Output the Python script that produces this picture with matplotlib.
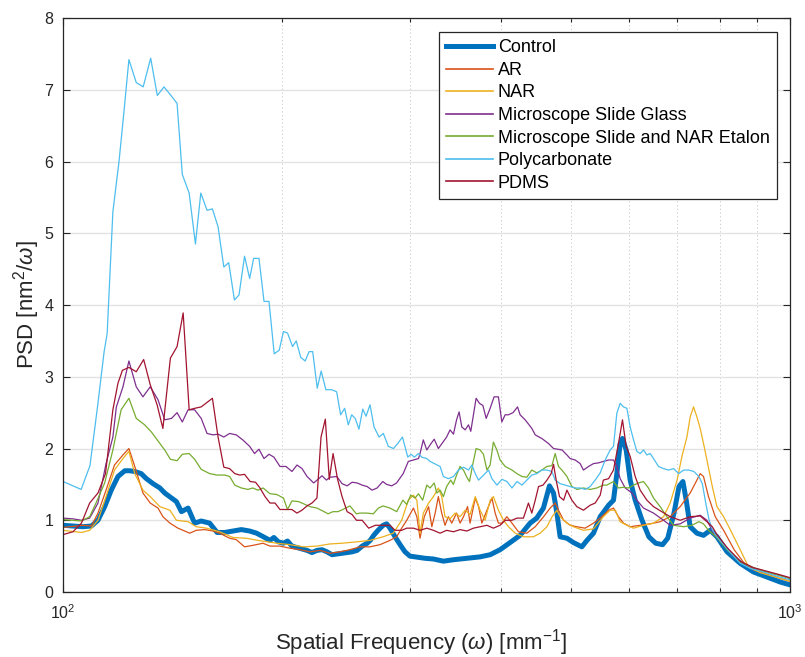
import matplotlib
matplotlib.use("Agg")
import matplotlib.pyplot as plt
from matplotlib.ticker import LogLocator, NullLocator, MultipleLocator, NullFormatter

plt.rcParams['font.family'] = ['Liberation Sans', 'DejaVu Sans']
plt.rcParams['mathtext.fontset'] = 'custom'
plt.rcParams['mathtext.rm'] = 'Liberation Sans'
plt.rcParams['mathtext.it'] = 'Liberation Sans:italic'

# PSD curves (spatial frequency in mm^-1, PSD in nm^2/omega)
control_f = [100, 103.2, 106.5, 109.4, 111.7, 114.1, 116.5, 119.0, 121.6, 123.5, 125.5, 128.1, 130.2,
             133.0, 135.9, 138.0, 141.0, 143.2, 145.5, 148.6, 151.7, 154.9, 159.1, 162.9, 166.9,
             171.3, 175.9, 180.6, 184.6, 188.6, 192.6, 195.0, 197.7, 201.0, 203.6, 206.5, 209.8,
             213.2, 216.6, 220.0, 223.5, 227.1, 230.7, 234.4, 238.2, 242.0, 245.9, 249.8, 253.8,
             257.9, 262.0, 264.6, 267.5, 271.2, 275.6, 278.7, 281.7, 286.2, 290.8, 295.4, 300.1,
             305.0, 309.8, 314.8, 323.2, 333.6, 344.4, 359.2, 374.7, 386.8, 399.2, 412.1, 425.3,
             439.0, 448.3, 457.9, 466.8, 472.8, 477.9, 482.8, 493.3, 503.5, 517.2, 525.6, 536.6,
             548.1, 562.9, 571.7, 577.8, 583.9, 588.2, 595.1, 602.7, 612.4, 625.8, 639.5, 653.5,
             667.9, 678.9, 692.5, 703.5, 712.3, 719.8, 728.9, 744.6, 760.3, 776.6, 793.3, 819.3,
             854.0, 890.4, 929.0, 969.0, 1000]
control_psd = [0.93, 0.92, 0.91, 0.92, 1.00, 1.19, 1.42, 1.61, 1.69, 1.69, 1.68, 1.65, 1.58,
               1.51, 1.45, 1.38, 1.31, 1.26, 1.12, 1.17, 0.96, 0.99, 0.96, 0.83, 0.83,
               0.85, 0.87, 0.85, 0.82, 0.77, 0.72, 0.76, 0.70, 0.68, 0.71, 0.64, 0.62,
               0.60, 0.58, 0.55, 0.58, 0.59, 0.56, 0.52, 0.53, 0.54, 0.55, 0.56, 0.58,
               0.64, 0.68, 0.72, 0.79, 0.86, 0.93, 0.95, 0.89, 0.77, 0.66, 0.56, 0.50,
               0.49, 0.48, 0.47, 0.46, 0.43, 0.45, 0.47, 0.49, 0.52, 0.59, 0.69, 0.79,
               0.96, 1.03, 1.17, 1.48, 1.38, 1.10, 0.77, 0.75, 0.69, 0.63, 0.72, 0.82,
               1.05, 1.21, 1.28, 1.65, 2.07, 2.14, 1.98, 1.56, 1.28, 1.00, 0.77, 0.68,
               0.66, 0.75, 1.10, 1.47, 1.54, 1.28, 0.91, 0.82, 0.79, 0.86, 0.77, 0.56,
               0.40, 0.28, 0.21, 0.14, 0.10]

ar_f = [100, 106.5, 109.4, 111.7, 114.6, 117.7, 120.9, 123.2, 125.5, 128.8, 131.8, 135.1, 137.2,
        140.3, 143.9, 149.4, 152.5, 156.6, 160.8, 164.2, 169.5, 173.1, 177.7, 182.4, 188.4,
        192.6, 198.8, 205.2, 211.8, 218.6, 225.6, 232.9, 240.4, 248.1, 256.1, 264.4, 272.9,
        281.7, 287.7, 292.3, 297.0, 303.4, 306.7, 309.8, 314.0, 318.3, 321.6, 325.0, 328.3,
        331.8, 335.3, 338.9, 342.5, 347.8, 351.7, 355.5, 360.1, 363.0, 369.0, 372.9, 376.8,
        382.9, 389.0, 393.0, 397.1, 401.4, 407.8, 414.5, 423.1, 434.5, 446.2, 458.2, 467.8,
        475.3, 480.3, 488.2, 498.4, 509.0, 522.6, 536.6, 551.2, 562.9, 571.7, 580.8, 590.1,
        602.7, 622.1, 642.1, 662.8, 684.1, 706.2, 728.9, 744.6, 752.4, 760.3, 772.4, 789.1,
        810.3, 837.8, 865.1, 890.4, 929.0, 969.0, 1000]
ar_psd = [0.90, 0.93, 0.92, 1.10, 1.42, 1.77, 1.91, 2.00, 1.75, 1.38, 1.24, 1.17, 1.05,
          0.96, 0.89, 0.82, 0.86, 0.87, 0.85, 0.82, 0.75, 0.73, 0.63, 0.65, 0.68,
          0.64, 0.64, 0.61, 0.59, 0.56, 0.58, 0.54, 0.56, 0.59, 0.63, 0.63, 0.66,
          0.72, 0.77, 0.89, 1.00, 1.17, 1.05, 0.75, 1.05, 1.19, 0.91, 1.10, 1.33,
          1.10, 0.93, 1.05, 0.96, 1.10, 0.96, 1.05, 1.19, 0.96, 1.31, 1.19, 0.96,
          1.14, 1.31, 1.10, 0.96, 0.96, 1.05, 0.96, 0.84, 0.82, 0.91, 1.05, 1.17,
          1.24, 1.14, 1.00, 0.93, 0.91, 0.89, 0.96, 1.05, 1.14, 1.17, 1.05, 0.96,
          0.91, 0.93, 0.95, 0.98, 1.05, 1.19, 1.38, 1.56, 1.65, 1.61, 1.33, 1.05,
          0.86, 0.59, 0.40, 0.31, 0.25, 0.19, 0.15]

nar_f = [100, 106.0, 108.8, 111.7, 114.6, 117.7, 120.9, 123.2, 125.5, 128.8, 131.8, 135.9, 140.3,
         143.2, 148.6, 152.5, 157.5, 164.2, 171.3, 178.5, 185.4, 196.9, 205.2, 214.2, 223.5,
         232.9, 242.0, 253.8, 264.4, 275.6, 284.6, 292.3, 298.5, 303.4, 306.7, 309.8, 313.0,
         318.3, 323.2, 328.3, 331.8, 335.3, 340.7, 346.2, 351.7, 357.4, 363.0, 369.0, 374.7,
         380.7, 386.8, 390.8, 397.1, 403.5, 410.0, 418.8, 429.8, 443.6, 453.2, 463.1, 470.7,
         477.9, 482.8, 493.3, 503.5, 519.8, 536.6, 553.6, 565.7, 575.0, 583.9, 596.5, 609.2,
         628.7, 649.0, 669.9, 684.1, 699.3, 710.1, 721.4, 728.9, 736.6, 744.6, 752.4, 760.3,
         768.6, 781.8, 793.3, 810.3, 832.2, 854.0, 876.7, 909.6, 953.8, 1000]
nar_psd = [0.86, 0.83, 0.86, 1.00, 1.33, 1.70, 1.86, 1.96, 1.65, 1.42, 1.33, 1.19, 1.14,
           1.00, 0.98, 0.91, 0.89, 0.84, 0.76, 0.75, 0.72, 0.68, 0.66, 0.63, 0.64,
           0.67, 0.68, 0.70, 0.72, 0.77, 0.82, 1.00, 1.28, 1.35, 1.28, 0.82, 1.10,
           1.24, 1.33, 1.45, 1.33, 1.05, 1.02, 1.10, 1.05, 1.14, 1.08, 1.33, 1.14,
           1.00, 1.28, 1.33, 1.14, 1.00, 0.91, 0.82, 0.77, 0.77, 0.82, 0.91, 1.05,
           1.14, 1.05, 0.96, 0.91, 0.86, 0.88, 1.05, 1.14, 1.14, 0.98, 0.93, 0.89,
           0.93, 0.96, 1.05, 1.24, 1.56, 1.89, 2.16, 2.44, 2.58, 2.44, 2.28, 2.07,
           1.84, 1.47, 1.19, 1.05, 0.82, 0.59, 0.35, 0.27, 0.21, 0.15]

slide_f = [100, 103.2, 106.0, 108.8, 111.7, 114.6, 117.1, 118.4, 120.9, 123.2, 126.1, 128.8, 131.8,
           135.1, 138.0, 141.0, 143.5, 145.9, 148.6, 151.7, 154.9, 157.8, 160.8, 163.4, 166.4,
           169.5, 173.1, 176.7, 180.6, 183.4, 186.0, 189.0, 192.0, 195.0, 198.8, 202.6, 206.5,
           209.8, 213.2, 216.6, 221.2, 224.8, 227.1, 230.3, 232.9, 238.0, 242.0, 245.9, 249.8,
           253.8, 257.9, 262.0, 266.1, 270.4, 275.3, 278.7, 283.2, 287.6, 293.7, 298.5, 303.4,
           308.3, 309.8, 313.0, 316.5, 319.8, 324.0, 328.3, 337.0, 340.7, 344.4, 347.8, 350.6,
           353.6, 357.4, 361.2, 363.8, 366.9, 370.0, 373.9, 378.0, 382.0, 386.8, 391.7, 397.1,
           401.4, 405.6, 409.9, 415.9, 421.9, 425.3, 432.2, 441.4, 446.2, 455.6, 465.3, 472.8,
           485.7, 493.3, 498.4, 506.4, 514.4, 519.8, 528.3, 536.6, 545.2, 553.6, 562.9, 571.7,
           577.8, 583.9, 593.3, 606.0, 615.6, 628.7, 649.0, 669.9, 684.1, 706.2, 728.9, 752.4,
           768.6, 785.1, 819.3, 854.0, 890.4, 929.0, 969.0, 1000]
slide_psd = [1.03, 1.02, 1.00, 1.03, 1.24, 1.79, 2.16, 2.58, 2.86, 3.22, 2.86, 2.72, 2.86,
             2.68, 2.40, 2.42, 2.50, 2.37, 2.54, 2.54, 2.42, 2.21, 2.19, 2.20, 2.16,
             2.21, 2.19, 2.12, 2.03, 1.93, 1.99, 1.86, 1.92, 1.88, 1.75, 1.75, 1.68,
             1.77, 1.72, 1.61, 1.52, 1.58, 1.62, 1.56, 1.60, 1.61, 1.51, 1.48, 1.53,
             1.52, 1.49, 1.47, 1.42, 1.45, 1.54, 1.50, 1.48, 1.52, 1.65, 1.82, 1.84,
             1.86, 1.93, 2.12, 1.98, 2.05, 2.13, 2.00, 2.16, 2.26, 2.20, 2.40, 2.51,
             2.30, 2.26, 2.33, 2.24, 2.47, 2.70, 2.63, 2.60, 2.42, 2.56, 2.72, 2.72,
             2.37, 2.47, 2.47, 2.50, 2.58, 2.47, 2.40, 2.28, 2.19, 2.14, 2.07, 2.00,
             1.98, 1.91, 1.86, 1.84, 1.79, 1.70, 1.75, 1.79, 1.80, 1.82, 1.84, 1.84,
             1.75, 1.58, 1.45, 1.38, 1.28, 1.17, 1.10, 1.00, 0.93, 0.95, 1.03, 1.07,
             1.00, 0.82, 0.60, 0.42, 0.33, 0.28, 0.23, 0.19]

etalon_f = [100, 106.0, 108.8, 111.0, 114.1, 117.1, 120.2, 123.2, 126.1, 129.5, 132.3, 135.9, 138.0,
            140.5, 143.5, 145.9, 149.1, 151.7, 154.9, 159.1, 162.9, 166.9, 169.5, 172.3, 175.9,
            179.6, 182.4, 185.4, 188.5, 192.6, 196.7, 201.0, 203.6, 206.5, 210.9, 214.2, 218.6,
            223.5, 227.6, 231.5, 235.1, 238.8, 242.6, 248.1, 253.2, 256.1, 261.7, 267.2, 271.5,
            275.6, 281.7, 287.7, 293.4, 297.0, 300.8, 305.0, 308.2, 312.4, 316.5, 319.8, 324.0,
            326.7, 330.1, 333.6, 337.0, 341.4, 344.3, 347.8, 351.7, 355.5, 359.3, 362.3, 366.3,
            370.0, 374.7, 378.7, 382.9, 386.8, 390.8, 395.1, 399.2, 405.7, 414.5, 421.1, 427.8,
            434.5, 441.4, 448.5, 455.6, 462.9, 470.3, 475.3, 480.3, 485.5, 493.3, 501.1, 509.2,
            520.0, 531.0, 542.2, 553.6, 559.6, 571.7, 580.8, 590.1, 599.6, 609.2, 618.9, 628.7,
            638.7, 649.0, 662.8, 677.1, 691.7, 714.2, 732.8, 749.2, 760.3, 772.4, 793.3, 819.3,
            854.0, 890.4, 929.0, 969.0, 1000]
etalon_psd = [1.01, 0.99, 1.05, 1.24, 1.52, 1.98, 2.54, 2.70, 2.42, 2.33, 2.23, 2.07, 1.98,
              1.85, 1.83, 1.92, 1.93, 1.85, 1.71, 1.65, 1.63, 1.63, 1.61, 1.49, 1.45,
              1.43, 1.45, 1.42, 1.45, 1.37, 1.36, 1.31, 1.15, 1.27, 1.26, 1.23, 1.19,
              1.17, 1.13, 1.09, 1.12, 1.12, 1.15, 1.20, 1.09, 1.10, 1.10, 1.09, 1.17,
              1.20, 1.17, 1.12, 1.28, 1.22, 1.35, 1.31, 1.37, 1.28, 1.49, 1.45, 1.52,
              1.38, 1.42, 1.33, 1.47, 1.56, 1.50, 1.63, 1.75, 1.70, 1.60, 1.54, 1.79,
              2.00, 1.98, 1.92, 1.70, 1.77, 2.09, 1.98, 1.84, 1.75, 1.70, 1.65, 1.61,
              1.60, 1.70, 1.66, 1.70, 1.75, 1.76, 1.93, 1.75, 1.70, 1.61, 1.47, 1.43,
              1.45, 1.43, 1.45, 1.49, 1.49, 1.54, 1.45, 1.46, 1.45, 1.49, 1.52, 1.54,
              1.45, 1.31, 1.19, 1.05, 0.93, 0.91, 0.93, 0.98, 0.95, 0.86, 0.76, 0.59,
              0.42, 0.34, 0.28, 0.23, 0.19]

poly_f = [100, 105.9, 108.9, 111.6, 113.9, 115.0, 117.1, 119.4, 121.3, 123.2, 126.1, 128.9, 132.0,
          134.8, 137.7, 140.5, 143.5, 145.9, 149.1, 152.1, 154.7, 157.8, 160.5, 163.4, 166.4,
          169.0, 172.1, 174.6, 177.7, 180.6, 182.9, 186.0, 189.0, 192.0, 195.2, 198.3, 201.0,
          203.6, 206.9, 209.3, 212.3, 215.3, 218.0, 220.5, 223.7, 226.5, 229.9, 234.1, 237.9,
          240.9, 244.0, 246.8, 249.5, 252.3, 255.3, 258.4, 261.1, 264.4, 267.8, 272.1, 275.8,
          280.2, 284.8, 288.7, 293.0, 298.0, 301.1, 304.3, 308.2, 311.5, 316.5, 319.8, 330.1,
          333.6, 338.9, 344.4, 349.9, 355.5, 361.2, 365.1, 369.0, 372.9, 378.8, 384.9, 389.0,
          395.2, 401.6, 407.9, 414.5, 421.1, 427.8, 434.5, 441.4, 448.5, 455.6, 462.9, 470.3,
          475.3, 482.8, 490.5, 498.4, 506.4, 514.4, 522.6, 531.0, 539.5, 548.1, 556.9, 565.7,
          571.7, 577.8, 583.9, 590.1, 596.5, 602.7, 609.2, 615.6, 622.1, 628.7, 635.5, 642.1,
          649.0, 659.3, 669.9, 680.7, 691.7, 702.8, 714.2, 725.6, 737.3, 749.2, 757.5, 765.7,
          774.0, 782.6, 795.3, 821.9, 854.0, 881.0, 918.7, 959.0, 1000]
poly_psd = [1.54, 1.43, 1.76, 2.60, 3.35, 3.60, 5.30, 6.00, 6.70, 7.42, 7.10, 7.04, 7.44,
            6.92, 7.04, 6.93, 6.81, 5.82, 5.56, 4.85, 5.56, 5.32, 5.34, 5.09, 4.53,
            4.59, 4.07, 4.14, 4.68, 4.37, 4.65, 4.65, 4.05, 4.05, 3.32, 3.37, 3.63,
            3.61, 3.42, 3.50, 3.27, 3.22, 3.35, 3.35, 2.84, 3.08, 2.82, 2.82, 2.79,
            2.47, 2.56, 2.33, 2.47, 2.42, 2.27, 2.55, 2.45, 2.61, 2.30, 2.16, 2.21,
            2.03, 2.00, 2.07, 2.16, 1.88, 1.92, 1.88, 1.93, 1.88, 1.86, 1.82, 1.75,
            1.61, 1.58, 1.61, 1.70, 1.74, 1.70, 1.77, 1.65, 1.56, 1.63, 1.70, 1.58,
            1.49, 1.57, 1.54, 1.45, 1.54, 1.49, 1.56, 1.63, 1.65, 1.70, 1.70, 1.68,
            1.56, 1.51, 1.49, 1.47, 1.45, 1.45, 1.43, 1.47, 1.56, 1.66, 1.84, 1.98,
            2.03, 2.49, 2.63, 2.58, 2.56, 2.30, 2.12, 1.96, 1.93, 1.98, 1.91, 1.93,
            1.86, 1.75, 1.72, 1.70, 1.72, 1.65, 1.70, 1.70, 1.68, 1.61, 1.51, 1.24,
            1.00, 0.86, 0.76, 0.585, 0.40, 0.33, 0.28, 0.22, 0.17]

pdms_f = [100, 103.2, 106.0, 108.8, 111.7, 114.4, 117.1, 119.0, 120.7, 123.2, 126.1, 129.1, 131.8,
          134.7, 137.2, 140.5, 143.5, 146.3, 149.1, 151.7, 154.9, 160.5, 163.4, 166.4, 169.5,
          172.3, 175.0, 177.7, 180.9, 184.0, 186.6, 189.6, 192.6, 195.7, 198.8, 203.0, 206.4,
          209.8, 213.1, 216.6, 220.0, 223.5, 226.4, 229.5, 232.4, 235.2, 238.6, 242.0, 245.9,
          249.8, 253.3, 257.9, 263.3, 268.9, 274.6, 281.7, 286.2, 292.3, 297.0, 303.4, 309.8,
          316.5, 323.2, 330.1, 337.0, 344.4, 351.7, 359.3, 366.9, 374.7, 382.9, 390.8, 399.2,
          405.7, 414.5, 421.1, 429.8, 436.7, 441.4, 446.2, 450.9, 457.3, 463.1, 469.2, 472.8,
          476.8, 481.8, 488.2, 493.3, 501.1, 509.0, 519.8, 531.0, 539.5, 548.1, 553.6, 562.9,
          571.7, 580.8, 588.2, 595.1, 602.7, 612.4, 622.1, 635.5, 649.0, 666.1, 684.1, 706.2,
          728.9, 752.4, 768.6, 781.8, 793.3, 819.3, 854.0, 890.4, 929.0, 969.0, 1000]
pdms_psd = [0.80, 0.84, 0.96, 1.24, 1.38, 1.65, 2.54, 2.91, 3.09, 3.13, 3.07, 3.24, 2.89,
            2.61, 2.28, 3.26, 3.42, 3.89, 2.54, 2.56, 2.58, 2.70, 2.16, 1.74, 1.72,
            1.65, 1.63, 1.64, 1.54, 1.53, 1.45, 1.33, 1.24, 1.24, 1.15, 1.15, 1.15,
            1.10, 1.14, 1.20, 1.24, 1.31, 2.16, 2.41, 1.57, 1.93, 1.57, 1.33, 1.12,
            1.08, 1.00, 1.00, 0.89, 0.93, 0.93, 0.93, 0.86, 0.86, 0.89, 0.89, 0.86,
            0.89, 0.86, 0.82, 0.86, 0.84, 0.87, 0.85, 0.89, 0.91, 0.93, 0.89, 0.93,
            1.00, 1.00, 1.03, 1.03, 1.24, 1.10, 1.28, 1.47, 1.49, 1.56, 1.65, 1.78,
            1.56, 1.33, 1.28, 1.42, 1.28, 1.19, 1.14, 1.21, 1.24, 1.35, 1.56, 1.58,
            1.70, 2.07, 2.40, 2.03, 1.89, 1.61, 1.42, 1.28, 1.19, 1.12, 1.05, 1.00,
            1.05, 1.06, 0.98, 0.91, 0.80, 0.62, 0.43, 0.34, 0.29, 0.24, 0.20]

series = [
    ("Control", control_f, control_psd, "#0072BD", 3.6),
    ("AR", ar_f, ar_psd, "#D95319", 0.9),
    ("NAR", nar_f, nar_psd, "#EDB120", 0.9),
    ("Microscope Slide Glass", slide_f, slide_psd, "#7E2F8E", 0.9),
    ("Microscope Slide and NAR Etalon", etalon_f, etalon_psd, "#77AC30", 0.9),
    ("Polycarbonate", poly_f, poly_psd, "#4DBEEE", 0.9),
    ("PDMS", pdms_f, pdms_psd, "#A2142F", 0.9),
]

fig = plt.figure(figsize=(8.05, 6.57), dpi=100)
ax = fig.add_axes([0.0783, 0.0989, 0.9031, 0.8737])

for name, f, psd, color, lw in series:
    ax.plot(f, psd, color=color, lw=lw, label=name)

ax.set_xscale('log')
ax.set_xlim(100, 1000)
ax.set_ylim(0, 8)
ax.yaxis.set_major_locator(MultipleLocator(1))
ax.yaxis.set_minor_locator(NullLocator())
ax.xaxis.set_minor_locator(LogLocator(base=10, subs=range(2, 10)))
ax.xaxis.set_minor_formatter(NullFormatter())

ax.yaxis.grid(True, which='major', color='#e3e3e3', lw=1.0)
ax.xaxis.grid(True, which='minor', color='#c4c4c4', lw=0.6, ls=(0, (1.5, 3)))
ax.set_axisbelow(True)

dark = '#262626'
for sp in ax.spines.values():
    sp.set_color(dark)
    sp.set_linewidth(0.9)
ax.tick_params(which='both', direction='in', top=True, right=True, colors=dark,
               labelsize=11.5, width=0.8)
ax.tick_params(which='major', length=5)
ax.tick_params(which='minor', length=3)
ax.tick_params(axis='x', pad=8)
ax.tick_params(axis='y', pad=7)

ax.set_xlabel(r'Spatial Frequency ($\omega$) [mm$^{\mathregular{-1}}$]', fontsize=16, color=dark, labelpad=4)
ax.xaxis.label.set_x(0.492)
ax.set_ylabel(r'PSD [nm$^{\mathregular{2}}$/$\omega$]', fontsize=16, color=dark, labelpad=2)

leg = ax.legend(loc='upper right', bbox_to_anchor=(0.982, 0.9756), borderaxespad=0,
                fontsize=13, fancybox=False, framealpha=1, edgecolor=dark,
                handlelength=2.6, handletextpad=0.25, labelspacing=0.31, borderpad=0.4)
leg.get_frame().set_linewidth(0.9)
for line in leg.get_lines():
    if line.get_linewidth() < 2:
        line.set_linewidth(1.2)
for t in leg.get_texts():
    t.set_color('black')

fig.savefig('out.png', dpi=100)
